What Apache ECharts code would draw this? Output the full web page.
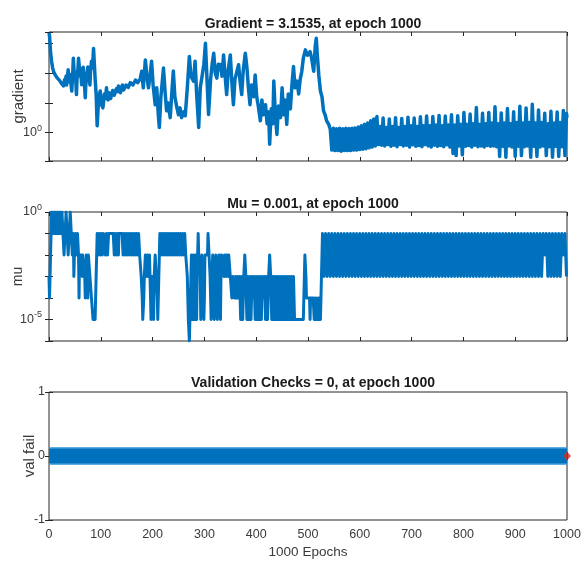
<!DOCTYPE html>
<html>
<head>
<meta charset="utf-8">
<script src="https://cdn.jsdelivr.net/npm/echarts@6/dist/echarts.min.js"></script>
<style>
html,body{margin:0;padding:0;background:#fff;}
#chart{width:582px;height:565px;}
</style>
</head>
<body>
<div id="chart"></div>
<script>
// ---- Titles / labels ----
const titles = ['Gradient = 3.1535, at epoch 1000', 'Mu = 0.001, at epoch 1000', 'Validation Checks = 0, at epoch 1000'];
const yNames = ['gradient', 'mu', 'val fail'];
const xName = '1000 Epochs';
const epochTicks = [0, 100, 200, 300, 400, 500, 600, 700, 800, 900, 1000];
const gradientLabeledPowers = [0];
const muLabeledPowers = [0, -5];
const valFailTicks = [-1, 0, 1];

// ---- Gradient per epoch [epoch, gradient] ----
const gradientData = [
 [0,2240],[1,1800],[2,1000],[3,500],[5,250],[7,150],[9,110],[12,87],[15,72],[18,63],[21,55],[24,45],[26,50],[28,37],[30,60],[31,45],[33,80],[34,40],[36,90],[37,129],[38,60],[40,50],[41,90],[43,35],[44,25],[46,120],[47,316],[48,150],[50,63],[51,110],[53,19],[54,60],[56,140],[57,316],[58,200],[60,79],[61,140],[63,41],[64,90],[66,158],[68,60],[70,15],[71,40],[73,79],[75,160],[76,115],[78,70],[79,40],[80,100],[82,251],[84,150],[86,676],[87,300],[89,68],[91,20],[93,1.7],
 [96,16],[99,25],[101,9],[102,7.9],[104,6.8],[106,14],[107,20],[109,14],[111,32],[112,18],[114,12.6],[116,22],[117,25],[119,14],[121,15],[123,26],[125,28],[126,18],[128,20],[130,30],[131,35],[133,24],[134,37],[136,26],[138,22],[140,34],[142,40],[144,27],[147,28],[149,40],[151,45],[153,33],[155,35],[157,48],[160,52],[162,40],[165,46],[167,58],[170,60],[171,48],[173,47],[176,63],
 [179,115],[182,32],[186,275],[189,79],[192,32],[195,79],[198,251],[201,40],[205,8.7],[208,32],[211,4],[213,1.5],[216,16],[221,148],[224,25],[227,5.4],[230,10],[234,3.2],[237,20],[240,117],[243,16],[247,6.8],[250,4],[253,6.8],[256,3.2],[260,5],[263,3.7],[267,32],[271,363],[274,79],[279,54],[282,251],[285,20],[289,1.5],[292,32],[295,68],[299,200],[302,1000],[305,63],[308,4.1],[312,63],[315,200],[318,468],[321,100],[324,68],[327,200],[331,191],[334,79],[337,407],[340,79],[343,19],[346,126],[350,407],[353,50],[356,8.7],[359,63],[362,100],[366,191],[369,50],[372,19],[375,126],[379,468],[382,158],[385,32],[388,8.7],[391,40],[395,16],[398,87],[401,16],[404,7.9],[408,2.5],[411,12.6],[414,4],[418,8.7],[421,2],[424,5],[426,0.41],[429,6.3],[432,2],[434,54],[437,4],[440,0.87],[443,7.9],[447,3.2],[450,32],[453,4],[456,12.6],[459,1.9],[462,20],[466,6.3],[469,40],[472,166],[475,32],[479,54],[482,20],[485,63],[488,115],[491,316],[495,603],[499,398],[504,525],[507,316],[511,115],[514,794],[516,1480],[518,398],[521,80],[524,25],[527,16],[530,5.4],[533,4],[536,2.5],[540,1.9],[543,1.3],
 [546,0.26],[549,1.4],[552,0.25],[555,1.35],[558,0.25],[561,1.4],[564,0.24],[567,1.35],[570,0.25],[573,1.4],[576,0.25],[579,1.38],[582,0.25],[585,1.4],[588,0.26],[591,1.45],[594,0.26],
 [597,1.55],[600,0.27],[603,1.7],[606,0.28],[609,1.9],[612,0.29],[615,2.1],[618,0.31],[621,2.5],[624,0.33],[627,2.9],[630,0.36],[633,3.5],[636,0.4],
 [639,1.6],[642,0.38],[645,3.1],[648,0.36],[651,1.5],[654,0.4],[657,2.9],[660,0.35],[663,1.6],[666,0.38],[669,3.2],[672,0.34],[675,1.5],[678,0.4],[681,3.0],[684,0.36],[687,1.6],[690,0.38],[693,3.3],[696,0.33],[699,1.7],[702,0.39],[705,3.1],[708,0.35],[711,1.6],[714,0.37],[717,3.4],[720,0.34],[723,1.7],[726,0.4],[729,3.6],[732,0.36],[735,1.7],[738,0.33],[741,3.5],[744,0.38],[747,1.8],[750,0.35],[753,3.8],[756,0.37],[759,1.7],[762,0.34],[765,3.6],[768,0.39],[771,1.8],[774,0.33],[777,4.0],[780,0.2],[783,1.8],[786,0.17],[789,3.7],[792,0.36],[795,1.9],[798,0.18],
 [801,4.8],[804,0.35],[807,1.9],[810,0.37],[813,4.2],[816,0.33],[819,2.0],[822,0.38],[825,7.0],[828,0.34],[831,1.9],[834,0.36],[837,4.5],[840,0.33],[843,2.0],[846,0.37],[849,4.8],[852,0.35],[855,2.1],[858,0.36],[861,7.4],[864,0.34],[867,2.0],[870,0.16],[873,4.6],[876,0.35],[879,2.1],[882,0.15],[885,6.5],[888,0.36],[891,2.0],[894,0.33],[897,5.0],[900,0.16],[903,2.2],[906,0.35],[909,7.7],[912,0.17],[915,2.1],[918,0.34],[921,6.8],[924,0.36],[927,2.2],[930,0.15],[933,9.0],[936,0.35],[939,2.1],[942,0.16],[945,5.8],[948,0.33],[951,2.2],[954,0.36],[957,4.5],[960,0.17],[963,2.0],[966,0.34],[969,5.2],[972,0.15],[975,2.1],[978,0.35],[981,4.9],[984,0.16],[987,2.2],[990,0.34],[993,5.6],[996,0.17],[999,4.4],[1000,3.1535]
];

// ---- Mu per epoch [epoch, mu] ----
const muData = [
 [0,1e-3],[1,1e-4],[2,1e-3],[3,1e-2],[4,1e-1],[5,1],
 [7,0.1],[9,1],[11,0.1],[13,1],[15,0.1],[17,1],[19,0.1],[21,1],[23,0.1],[25,1],[27,0.1],[29,0.01],[31,0.1],[33,1],[35,0.1],[37,0.01],[39,0.1],[41,1],[43,0.1],[45,0.01],[47,0.1],
 [48,0.001],[49,0.01],[51,0.1],[53,0.01],[55,0.1],[57,0.01],[58,1e-4],[59,0.01],[61,0.01],
 [63,0.01],[64,0.001],[65,0.01],[68,0.01],[69,0.001],[70,1e-4],[71,0.001],[72,0.01],[74,0.01],[75,1e-4],[76,0.01],
 [78,0.01],[79,0.001],[81,0.001],[82,1e-4],[84,1e-4],[85,1e-5],[89,1e-5],[90,1e-4],[91,0.001],[92,0.01],[93,0.1],
 [95,0.01],[97,0.1],[99,0.01],[101,0.1],[103,0.01],[105,0.1],[107,0.1],[109,0.01],[111,0.1],[113,0.01],[115,0.1],[124,0.1],[126,0.01],[128,0.1],[130,0.01],[132,0.1],[134,0.01],[135,0.1],[141,0.1],[143,0.01],[145,0.1],[147,0.01],[149,0.1],[151,0.01],[153,0.1],[155,0.01],[157,0.1],[159,0.01],[161,0.1],[163,0.01],[165,0.1],[167,0.01],[169,0.1],[171,0.01],[173,0.1],[175,0.01],
 [177,0.01],[178,0.001],[180,1e-4],[181,1e-5],[183,1e-4],[184,0.001],[186,0.01],[188,0.001],[190,0.01],[192,0.001],[194,0.01],[195,0.001],[196,1e-4],[197,1e-5],[198,1e-4],[199,0.001],[201,0.001],[202,1e-5],[203,0.001],[205,0.01],[207,0.001],[209,1e-4],[210,1e-5],[211,1e-4],[212,0.001],[213,0.01],[214,0.1],
 [216,0.01],[218,0.1],[220,0.01],[222,0.1],[224,0.01],[226,0.1],[228,0.01],[230,0.1],[232,0.01],[234,0.1],[236,0.01],[238,0.1],[240,0.01],[242,0.1],[244,0.01],[246,0.1],[248,0.01],[250,0.1],[252,0.01],[254,0.1],[256,0.01],[258,0.1],[260,0.01],[262,0.1],[264,0.01],[266,0.01],
 [267,0.001],[268,1e-4],[269,1e-5],[271,1e-6],[272,1e-5],[273,1e-4],[274,0.001],[275,0.01],
 [276,0.001],[277,1e-5],[278,0.001],[279,0.01],[280,0.001],[281,1e-5],[282,0.001],[283,0.01],[284,1e-4],[285,1e-5],[286,0.001],[287,0.01],[288,0.1],[289,0.01],
 [291,0.01],[292,0.001],[293,1e-5],[294,0.001],[295,0.01],[297,0.01],[298,1e-4],[299,1e-5],[300,1e-4],[301,0.01],
 [304,0.01],[306,0.01],[307,0.1],[308,0.1],[309,0.01],
 [311,0.001],[312,1e-4],[313,1e-5],[314,1e-4],[315,0.001],[316,0.01],[318,0.001],[319,1e-5],[320,0.001],[322,0.01],[323,0.001],[324,1e-4],[325,1e-5],[326,1e-4],[327,0.001],[328,0.01],[330,0.001],[331,1e-5],[332,0.001],[333,0.01],
 [336,0.01],[338,0.001],[339,0.01],[341,0.01],[342,0.001],[343,0.01],[345,0.01],[346,0.001],[347,0.01],[349,0.01],
 [350,0.001],[352,0.001],[353,1e-4],[355,0.001],[357,0.001],[358,1e-4],[360,0.001],[362,1e-4],[364,0.001],[366,1e-4],
 [368,0.001],[370,1e-5],[372,0.001],[374,1e-5],[376,0.001],[378,0.01],[379,0.01],[380,0.001],[382,1e-5],[384,0.001],[386,1e-5],[388,0.001],[390,1e-5],[392,0.001],[394,1e-4],[396,0.001],[398,1e-5],[400,0.001],[402,1e-5],[404,0.001],[406,1e-5],[408,0.001],[410,1e-5],[412,0.001],[414,1e-4],[416,0.001],[418,1e-5],[420,0.001],[422,1e-5],[424,0.001],[426,0.01],[427,0.01],[428,0.001],[430,1e-5],[432,0.001],[434,1e-5],[436,0.001],[438,1e-5],[440,0.001],[442,1e-5],[444,0.001],[446,1e-5],[448,0.001],[450,1e-5],[452,0.001],[454,1e-5],[456,0.001],[458,1e-5],[460,0.001],[462,1e-5],[464,0.001],[466,1e-5],[468,0.001],[470,1e-5],[472,0.001],[474,1e-5],
 [491,1e-5],[492,1e-4],[493,0.001],[494,0.01],[495,0.01],[496,0.001],[497,1e-4],[503,1e-4],[504,1e-5],[505,1e-4],[510,1e-4],
 [512,1e-5],[514,1e-4],[516,1e-5],[518,1e-4],[520,1e-5],[522,1e-4],[524,1e-5],[525,1e-4],[526,0.001],[527,0.01],[528,0.1],
 [531,.001],[534,.1],[537,.001],[540,.1],[543,.001],[546,.1],[549,.001],[552,.1],[555,.001],[558,.1],[561,.001],[564,.1],[567,.001],[570,.1],[573,.001],[576,.1],[579,.001],[582,.1],[585,.001],[588,.1],[591,.001],[594,.1],[597,.001],[600,.1],[603,.001],[606,.1],[609,.001],[612,.1],[615,.001],[618,.1],[621,.001],[624,.1],[627,.001],[630,.1],[633,.001],[636,.1],[639,.001],[642,.1],[645,.001],[648,.1],[651,.001],[654,.1],[657,.001],[660,.1],[663,.001],[666,.1],[669,.001],[672,.1],[675,.001],[678,.1],[681,.001],[684,.1],[687,.001],[690,.1],[693,.001],[696,.1],[699,.001],[702,.1],[705,.001],[708,.1],[711,.001],[714,.1],[717,.001],[720,.1],[723,.001],[726,.1],[729,.001],[732,.1],[735,.001],[738,.1],[741,.001],[744,.1],[747,.001],[750,.1],[753,.001],[756,.1],[759,.001],[762,.1],[765,.001],[768,.1],[771,.001],[774,.1],[777,.001],[780,.1],[783,.001],[786,.1],[789,.001],[792,.1],[795,.001],[798,.1],[801,.001],[804,.1],[807,.001],[810,.1],[813,.001],[816,.1],[819,.001],[822,.1],[825,.001],[828,.1],[831,.001],[834,.1],[837,.001],[840,.1],[843,.001],[846,.1],[849,.001],[852,.1],[855,.001],[858,.1],[861,.001],[864,.1],[867,.001],[870,.1],[873,.001],[876,.1],[879,.001],[882,.1],[885,.001],[888,.1],[891,.001],[894,.1],[897,.001],[900,.1],[903,.001],[906,.1],[909,.001],[912,.1],[915,.001],[918,.1],[921,.001],[924,.1],[927,.001],[930,.1],[933,.001],[936,.1],[939,.001],[942,.1],[945,.001],[948,.1],[951,.001],[954,.1],[957,.01],[960,.1],[963,.001],[966,.1],[969,.001],[972,.1],[975,.001],[978,.1],[981,.001],[984,.1],[987,.001],[990,.1],[993,.01],[996,.1],[999,.001],[1000,.001]
];

// ---- Validation checks [epoch, fails] ----
const valFailData = [[0,0],[1000,0]];
const bestEpoch = [[1000,0]];

// ---- Axis ranges ----
const gradientRange = [0.112, 2400];
const muRange = [1e-6, 1];
const epochRange = [0, 1000];

const FONT = '"Liberation Sans", Arial, Helvetica, sans-serif';
const TXT = '#3a3a3a';
const AX = '#262626';
const BLUE = '#0072BD';

const chart = echarts.init(document.getElementById('chart'), null, {renderer: 'canvas'});

const gridTops = [32, 212, 392];
const gridHeights = [129, 129, 128];
const grids = gridTops.map((t, i) => ({left: 49, right: 15, top: t, height: gridHeights[i], containLabel: false, outerBoundsMode: 'none',
  show: true, borderColor: AX, borderWidth: 1, backgroundColor: 'transparent'}));

function xAx(gridIndex, pos, labels) {
  return {
    type: 'value', gridIndex, position: pos, min: epochRange[0], max: epochRange[1], interval: 100,
    axisLine: {show: false}, splitLine: {show: false},
    axisTick: {show: true, inside: true, length: 4, lineStyle: {color: AX}},
    axisLabel: {show: labels, color: TXT, fontFamily: FONT, fontSize: 12.5, margin: 8,
      formatter: v => (epochTicks.indexOf(v) >= 0 ? String(v) : '')},
    name: labels ? xName : '', nameLocation: 'middle', nameGap: 25, nameMoveOverlap: false,
    nameTextStyle: {color: TXT, fontFamily: FONT, fontSize: 13.5}
  };
}

function supLabel(powers) {
  return function (v) {
    const p = Math.round(Math.log10(v) * 1000) / 1000;
    if (powers.indexOf(p) >= 0) return '{b|10}{s|' + p + '}';
    return '';
  };
}
const richSup = {
  b: {fontSize: 12.5, color: TXT, fontFamily: FONT, lineHeight: 18},
  s: {fontSize: 9, color: TXT, fontFamily: FONT, verticalAlign: 'top', lineHeight: 6}
};

function logY(gridIndex, pos, range, powers, name, nameGap, nameSize) {
  return {
    type: 'log', logBase: 10, gridIndex, position: pos, min: range[0], max: range[1],
    axisLine: {show: false}, splitLine: {show: false}, minorTick: {show: false},
    axisTick: {show: true, inside: true, length: 4, lineStyle: {color: AX}},
    axisLabel: {show: pos === 'left', formatter: supLabel(powers), rich: richSup, margin: 7},
    name: pos === 'left' ? name : '', nameLocation: 'middle', nameGap: nameGap, nameMoveOverlap: false,
    nameTextStyle: {color: TXT, fontFamily: FONT, fontSize: nameSize}
  };
}

function linY(gridIndex, pos) {
  return {
    type: 'value', gridIndex, position: pos, min: -1, max: 1, interval: 1,
    axisLine: {show: false}, splitLine: {show: false},
    axisTick: {show: true, inside: true, length: 4, lineStyle: {color: AX}},
    axisLabel: {show: pos === 'left', color: TXT, fontFamily: FONT, fontSize: 12.5, margin: 4,
      formatter: v => (valFailTicks.indexOf(v) >= 0 ? String(v) : '')},
    name: pos === 'left' ? yNames[2] : '', nameLocation: 'middle', nameGap: 12, nameMoveOverlap: false,
    nameTextStyle: {color: TXT, fontFamily: FONT, fontSize: 15}
  };
}

const option = {
  animation: false,
  backgroundColor: '#ffffff',
  textStyle: {fontFamily: FONT},
  title: titles.map((t, i) => ({
    text: t, left: 308, textAlign: 'center', top: [12, 192, 371][i],
    textStyle: {fontFamily: FONT, fontSize: 14, fontWeight: 'bold', color: '#1a1a1a'}
  })),
  grid: grids,
  xAxis: [xAx(0, 'bottom', false), xAx(0, 'top', false), xAx(1, 'bottom', false), xAx(1, 'top', false), xAx(2, 'bottom', true), xAx(2, 'top', false)],
  yAxis: [
    logY(0, 'left', gradientRange, gradientLabeledPowers, yNames[0], 23, 15),
    logY(0, 'right', gradientRange, gradientLabeledPowers, '', 0, 12),
    logY(1, 'left', muRange, muLabeledPowers, yNames[1], 24, 14),
    logY(1, 'right', muRange, muLabeledPowers, '', 0, 12),
    linY(2, 'left'), linY(2, 'right')
  ],
  series: [
    {type: 'line', xAxisIndex: 0, yAxisIndex: 0, data: gradientData, showSymbol: false, symbol: 'none', sampling: false,
     lineStyle: {color: BLUE, width: 3.5, join: 'round'}},
    {type: 'line', xAxisIndex: 2, yAxisIndex: 2, data: muData, showSymbol: false, symbol: 'none',
     lineStyle: {color: BLUE, width: 3, join: 'round'}},
    {type: 'line', xAxisIndex: 4, yAxisIndex: 4, data: valFailData, showSymbol: false, symbol: 'none',
     lineStyle: {color: '#62abdf', width: 18}},
    {type: 'line', xAxisIndex: 4, yAxisIndex: 4, data: valFailData, showSymbol: false, symbol: 'none',
     lineStyle: {color: BLUE, width: 15}},
    {type: 'scatter', xAxisIndex: 4, yAxisIndex: 4, data: bestEpoch, symbol: 'diamond', symbolSize: [8, 9],
     itemStyle: {color: '#d42a1e'}, clip: false, z: 5}
  ]
};
chart.setOption(option);
</script>
</body>
</html>
